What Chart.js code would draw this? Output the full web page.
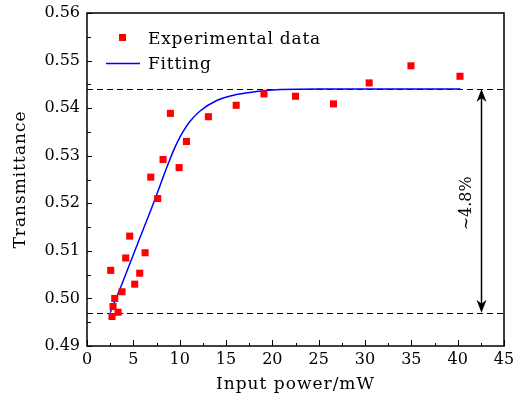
<!doctype html>
<html lang="en">
<head>
  <meta charset="utf-8">
  <title>Transmittance vs input power</title>
  <style type="text/css">
    html, body {
      margin: 0;
      padding: 0;
      background: #fff;
    }
    #wrap {
      width: 523px;
      height: 401px;
    }
  </style>
</head>
<body>
  <div id="wrap">
    <canvas id="chart_transmittance"></canvas>
  </div>

  <script src="https://cdn.jsdelivr.net/npm/chart.js"></script>
  <script>
    // experimental points
    const power_mw = [2.56, 2.70, 2.81, 2.99, 3.35, 3.78, 4.18, 4.61, 5.15, 5.69, 6.27, 6.88, 7.63, 8.21, 9.00, 9.94, 10.73, 13.1, 16.1, 19.1, 22.5, 26.6, 30.45, 34.96, 40.25];
    const transmittance = [0.5059, 0.4962, 0.4983, 0.5000, 0.4971, 0.5014, 0.5085, 0.5131, 0.5030, 0.5053, 0.5096, 0.5255, 0.5210, 0.5292, 0.5389, 0.5275, 0.5330, 0.5382, 0.5406, 0.5430, 0.5425, 0.5409, 0.5453, 0.5489, 0.5467];

    // fitted curve
    const fit_power = [2.5, 3.5, 4.6, 5.7, 6.8, 7.5, 8.1, 8.9, 9.5, 10.0, 10.5, 11.1, 12.2, 14.0, 15.8, 17.6, 20, 25, 30, 35, 40.3];
    const fit_trans = [0.4970, 0.5017, 0.5072, 0.5127, 0.5181, 0.5217, 0.5249, 0.5290, 0.5318, 0.5338, 0.5355, 0.5372, 0.5394, 0.5416, 0.5427, 0.5433, 0.5438, 0.5440, 0.5440, 0.5440, 0.5440];

    // reference levels for the ~4.8% arrow
    const level_high = 0.5440;
    const level_low = 0.4970;
    const arrow_x = 42.5;
    const change_label = '~4.8%';

    const x_range = [0, 45];
    const y_range = [0.49, 0.56];

    const serif = "'DejaVu Serif', 'Liberation Serif', serif";

    function toPoints(xs, ys) {
      var pts = [];
      for (var i = 0; i < xs.length; i++) {
        pts.push({ x: xs[i], y: ys[i] });
      }
      return pts;
    }

    const framePlugin = {
      id: 'frame',
      beforeDatasetsDraw(chart) {
        const ctx = chart.ctx;
        const area = chart.chartArea;
        const ys = chart.scales.y;
        ctx.save();
        ctx.strokeStyle = '#000';
        ctx.lineWidth = 1;
        ctx.setLineDash([6, 4]);
        [level_high, level_low].forEach(v => {
          const py = Math.round(ys.getPixelForValue(v)) + 0.5;
          ctx.beginPath();
          ctx.moveTo(area.left, py);
          ctx.lineTo(area.right, py);
          ctx.stroke();
        });
        ctx.restore();
      },
      afterDraw(chart) {
        const ctx = chart.ctx;
        const area = chart.chartArea;
        const xs = chart.scales.x;
        const ys = chart.scales.y;
        ctx.save();

        // box
        ctx.strokeStyle = '#000';
        ctx.lineWidth = 1.5;
        ctx.strokeRect(area.left, area.top, area.right - area.left, area.bottom - area.top);

        // inward ticks
        ctx.lineWidth = 1;
        ctx.beginPath();
        for (var v = x_range[0]; v <= x_range[1] + 0.01; v += 2.5) {
          const px = Math.round(xs.getPixelForValue(v)) + 0.5;
          const len = (Math.round(v / 2.5) % 2 === 0) ? 6 : 3;
          ctx.moveTo(px, area.bottom);
          ctx.lineTo(px, area.bottom - len);
        }
        for (var k = 0; k <= 14; k++) {
          const val = y_range[0] + k * 0.005;
          const py = Math.round(ys.getPixelForValue(val)) + 0.5;
          const len = (k % 2 === 0) ? 5 : 4;
          ctx.moveTo(area.left, py);
          ctx.lineTo(area.left + len, py);
        }
        ctx.stroke();

        // double arrow
        const ax = Math.round(xs.getPixelForValue(arrow_x)) + 0.5;
        const yTop = ys.getPixelForValue(level_high);
        const yBot = ys.getPixelForValue(level_low);
        ctx.lineWidth = 1.5;
        ctx.beginPath();
        ctx.moveTo(ax, yTop + 6);
        ctx.lineTo(ax, yBot - 6);
        ctx.stroke();
        ctx.fillStyle = '#000';
        function head(y, dir) {
          ctx.beginPath();
          ctx.moveTo(ax, y);
          ctx.lineTo(ax - 5, y + dir * 13);
          ctx.lineTo(ax, y + dir * 9);
          ctx.lineTo(ax + 5, y + dir * 13);
          ctx.closePath();
          ctx.fill();
        }
        head(yTop, 1);
        head(yBot, -1);

        // rotated label
        ctx.font = '16px ' + serif;
        ctx.textAlign = 'center';
        ctx.textBaseline = 'middle';
        ctx.save();
        ctx.translate(xs.getPixelForValue(41.0), ys.getPixelForValue(0.5200));
        ctx.rotate(-Math.PI / 2);
        ctx.fillText(change_label, 0, 0);
        ctx.restore();

        // axis titles
        ctx.font = '17px ' + serif;
        ctx.letterSpacing = '1px';
        ctx.fillText('Input power/mW', (area.left + area.right) / 2, 385);
        ctx.save();
        ctx.translate(21, (area.top + area.bottom) / 2);
        ctx.rotate(-Math.PI / 2);
        ctx.fillText('Transmittance', 0, 0);
        ctx.restore();

        // legend
        const d0 = chart.data.datasets[0];
        const d1 = chart.data.datasets[1];
        ctx.fillStyle = d0.backgroundColor;
        ctx.fillRect(122.5 - 3.5, 37.5 - 3.5, 7, 7);
        ctx.strokeStyle = d1.borderColor;
        ctx.lineWidth = d1.borderWidth;
        ctx.beginPath();
        ctx.moveTo(106, 63.5);
        ctx.lineTo(140, 63.5);
        ctx.stroke();
        ctx.fillStyle = '#000';
        ctx.textAlign = 'left';
        ctx.letterSpacing = '0.8px';
        ctx.fillText(d0.label, 148, 40);
        ctx.fillText(d1.label, 148, 65);

        ctx.restore();
      }
    };

    const config_transmittance = {
      type: 'scatter',
      data: {
        datasets: [{
          label: 'Experimental data',
          data: toPoints(power_mw, transmittance),
          pointStyle: 'rect',
          pointRadius: 5,
          backgroundColor: '#ff0000',
          borderColor: '#ff0000',
          borderWidth: 0,
          showLine: false
        }, {
          label: 'Fitting',
          data: toPoints(fit_power, fit_trans),
          showLine: true,
          pointRadius: 0,
          borderColor: '#0000ff',
          backgroundColor: '#0000ff',
          borderWidth: 1.5,
          cubicInterpolationMode: 'monotone'
        }]
      },
      options: {
        responsive: true,
        maintainAspectRatio: false,
        animation: false,
        layout: {
          padding: { top: 13, right: 19, left: 0, bottom: 0 }
        },
        plugins: {
          legend: { display: false },
          tooltip: { enabled: false }
        },
        scales: {
          x: {
            type: 'linear',
            min: x_range[0],
            max: x_range[1],
            grid: { display: false, drawTicks: false },
            border: { display: false },
            ticks: {
              stepSize: 5,
              padding: 4,
              color: '#000',
              font: { family: serif, size: 16 }
            },
            afterFit(scale) {
              scale.height = 55;
              scale.paddingLeft = 0;
              scale.paddingRight = 0;
            }
          },
          y: {
            type: 'linear',
            min: y_range[0],
            max: y_range[1],
            grid: { display: false, drawTicks: false },
            border: { display: false },
            ticks: {
              stepSize: 0.01,
              padding: 7,
              color: '#000',
              font: { family: serif, size: 16 },
              callback: function(value) { return value.toFixed(2); }
            },
            afterFit(scale) {
              scale.width = 87;
              scale.paddingTop = 0;
              scale.paddingBottom = 0;
            }
          }
        }
      },
      plugins: [framePlugin]
    };

    const chart_transmittance = new Chart(
      document.getElementById('chart_transmittance'),
      config_transmittance
    );
  </script>
</body>
</html>
